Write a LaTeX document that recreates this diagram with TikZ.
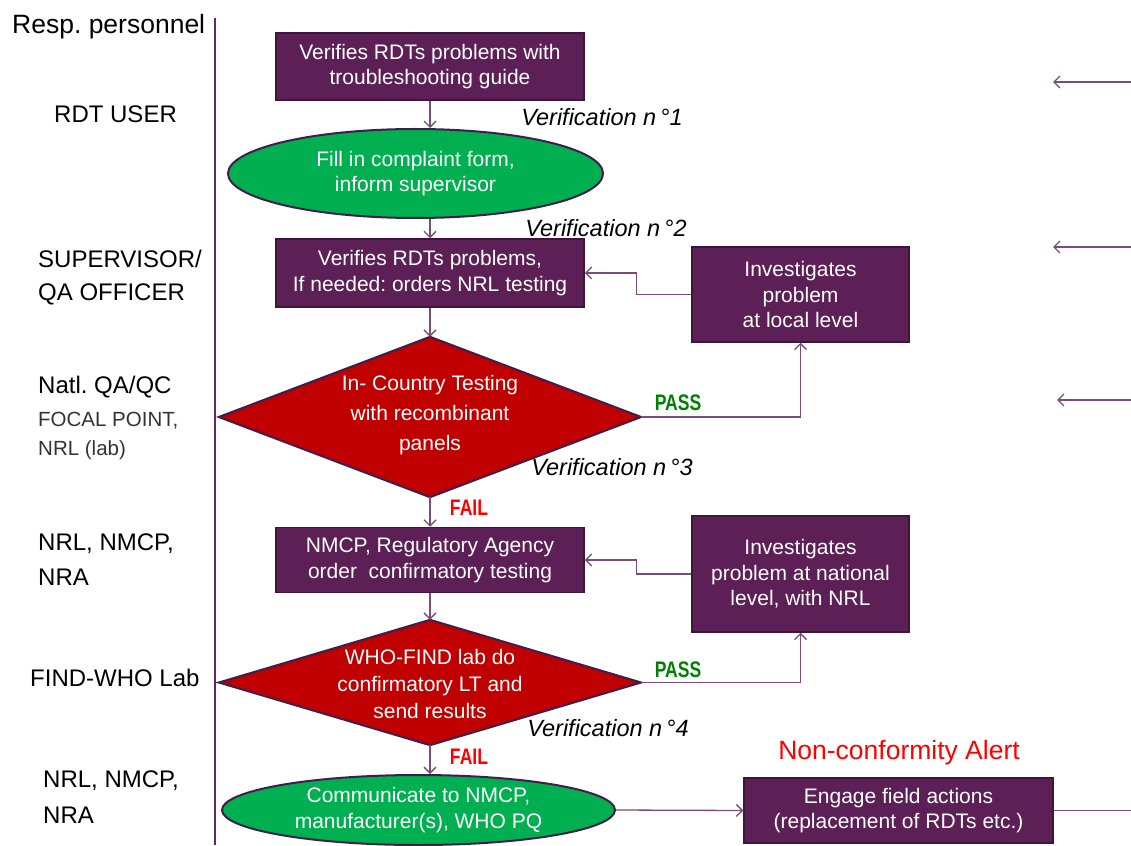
\documentclass[tikz,border=0pt]{standalone}
\usepackage{fontspec}
\setmainfont{Liberation Sans}
\newfontfamily\condfont[FakeStretch=0.78]{Liberation Sans}
\usetikzlibrary{arrows.meta,shapes.geometric}
\definecolor{boxfill}{RGB}{92,32,86}
\definecolor{boxborder}{RGB}{62,22,60}
\definecolor{conn}{RGB}{122,76,122}
\definecolor{vline}{RGB}{100,40,95}
\definecolor{ellfill}{RGB}{0,176,80}
\definecolor{diafill}{RGB}{192,0,0}
\definecolor{diaborder}{RGB}{63,30,75}
\definecolor{passgreen}{RGB}{0,128,0}
\definecolor{failred}{RGB}{255,0,0}
\newcommand\boxfont{\fontsize{21}{25.5}\selectfont}
\frenchspacing
\begin{document}
\begin{tikzpicture}[x=1pt,y=-1pt,
  box/.style={draw=boxborder, line width=1.5pt, fill=boxfill, text=white, align=center, inner sep=0pt, font=\boxfont},
  ell/.style={ellipse, draw=diaborder, line width=2pt, fill=ellfill, text=white, align=center, inner sep=0pt, font=\boxfont},
  diabox/.style={draw=none, inner sep=0pt},
  diashape/.style={draw=diaborder, line width=2pt, fill=diafill, line join=miter},
  diatext/.style={text=white, align=center, inner sep=0pt},
  arr/.style={draw=conn, line width=1.3pt, -{Straight Barb[length=6pt,width=12pt]}},
  plain/.style={draw=conn, line width=1.3pt},
  lbl/.style={anchor=west, inner sep=0pt, font=\fontsize{24}{28}\selectfont},
  smalllbl/.style={anchor=west, inner sep=0pt, text=black!80, font=\fontsize{20.5}{24}\selectfont},
  verif/.style={inner sep=0pt, font=\fontsize{23.5}{28}\selectfont\itshape},
  pass/.style={inner sep=0pt, text=passgreen, font=\condfont\bfseries\fontsize{22.5}{26}\selectfont},
  fail/.style={inner sep=0pt, text=failred, font=\condfont\bfseries\fontsize{22.5}{26}\selectfont}
]
\useasboundingbox (0,0) rectangle (1131,845);

% left column
\draw[vline, line width=2pt] (215,18) -- (215,845);
\node[anchor=west, inner sep=0pt, font=\fontsize{26.5}{30}\selectfont] (rp) at (12,27) {Resp. personnel};
\node[lbl] (l1) at (54,114) {RDT USER};
\node[lbl] (l2a) at (38,259) {SUPERVISOR/};
\node[lbl] (l2b) at (38,294) {QA OFFICER};
\node[lbl] (l3a) at (38,387) {Natl. QA/QC};
\node[smalllbl] (l3b) at (38,421) {FOCAL POINT,};
\node[smalllbl] (l3c) at (38,450) {NRL (lab)};
\node[lbl] (l4a) at (38,544) {NRL, NMCP,};
\node[lbl] (l4b) at (38,577) {NRA};
\node[lbl] (l5) at (30,678) {FIND-WHO Lab};
\node[lbl] (l6a) at (43,781) {NRL, NMCP,};
\node[lbl] (l6b) at (43,815) {NRA};

% main nodes
\node[box, minimum width=308pt, minimum height=67pt] (b1) at (430,66.5) {Verifies RDTs problems with\\troubleshooting guide};
\node[ell, minimum width=375pt, minimum height=89pt] (e1) at (415.5,173.5) {Fill in complaint form,\\inform supervisor};
\node[box, minimum width=308pt, minimum height=68pt] (b2) at (430,273) {Verifies RDTs problems,\\If needed: orders NRL testing};
\node[box, minimum width=217pt, minimum height=95pt] (loc) at (800.5,294.5) {Investigates\\problem\\at local level};

\node[diabox, minimum width=422pt, minimum height=160pt] (d1) at (430,417) {};
\draw[diashape] (d1.west) -- (d1.north) -- (d1.east) -- (d1.south) -- cycle;
\node[diatext, font=\fontsize{21}{30}\selectfont] (d1t) at (430,415) {In- Country Testing\\with recombinant\\panels};

\node[box, minimum width=308pt, minimum height=65pt] (b3) at (430,560) {NMCP, Regulatory Agency\\order\ \ confirmatory testing};
\node[box, minimum width=217pt, minimum height=116pt] (nat) at (800.5,574) {Investigates\\problem at national\\level, with NRL};

\node[diabox, minimum width=422pt, minimum height=125pt] (d2) at (430,682.5) {};
\draw[diashape] (d2.west) -- (d2.north) -- (d2.east) -- (d2.south) -- cycle;
\node[diatext, font=\fontsize{21}{27}\selectfont] (d2t) at (430,684) {WHO-FIND lab do\\confirmatory LT and\\send results};

\node[ell, minimum width=393pt, minimum height=70pt] (e2) at (418.5,810) {Communicate to NMCP,\\manufacturer(s), WHO PQ};
\node[box, minimum width=309pt, minimum height=65pt] (eng) at (898.5,810.5) {Engage field actions\\(replacement of RDTs etc.)};

% connectors
\draw[arr] (b1.south) -- (b1.south |- e1.north);
\draw[arr] (e1.south -| b2.north) -- (b2.north);
\draw[arr] (b2.south) -- (d1.north);
\draw[arr] (d1.south) -- (b3.north);
\draw[arr] (b3.south) -- (d2.north);
\draw[arr] (d2.south) -- (d2.south |- e2.north);
\draw[arr] (loc.west) -- ++(-55,0) |- (b2.east);
\draw[arr] (d1.east) -| (loc.south);
\draw[arr] (nat.west) -- ++(-55,0) |- (b3.east);
\draw[arr] (d2.east) -| (nat.south);
\draw[arr] (e2.east) -- (eng.west);
\coordinate (ex) at (1131,810.5);
\draw[plain] (eng.east) -- (ex);

% incoming arrows from the right
\coordinate (r1s) at (1131,82);  \coordinate (r1t) at (1053,82);
\coordinate (r2s) at (1131,247); \coordinate (r2t) at (1053,247);
\coordinate (r3s) at (1131,400); \coordinate (r3t) at (1057,400);
\draw[arr] (r1s) -- (r1t);
\draw[arr] (r2s) -- (r2t);
\draw[arr] (r3s) -- (r3t);

% labels
\node[pass] (p1) at (678,403) {PASS};
\node[fail] (f1) at (469,508) {FAIL};
\node[pass] (p2) at (678,670) {PASS};
\node[fail] (f2) at (469,757) {FAIL};
\node[verif] (v1) at (602,117) {Verification n\,°1};
\node[verif] (v2) at (606,228) {Verification n\,°2};
\node[verif] (v3) at (612,467) {Verification n\,°3};
\node[verif] (v4) at (608,728) {Verification n\,°4};
\node[inner sep=0pt, text=failred, font=\fontsize{26.5}{30}\selectfont] (nca) at (899,753) {Non-conformity Alert};
\end{tikzpicture}
\end{document}
